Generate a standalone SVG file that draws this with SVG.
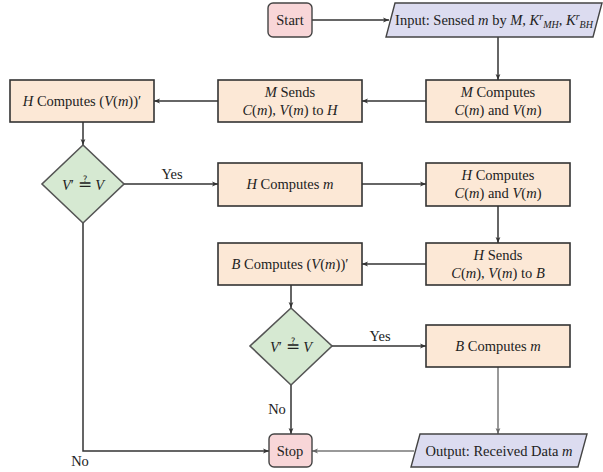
<svg xmlns="http://www.w3.org/2000/svg" width="603" height="472" viewBox="0 0 603 472">
<style>
text{font-family:"Liberation Serif","Times New Roman",serif;font-size:14.5px;fill:#222;text-anchor:middle}
.i{font-style:italic}
.box{fill:#fce8d6;stroke:#333;stroke-width:1.6}
.dia{fill:#d6e9d2;stroke:#555;stroke-width:1.6}
.term{fill:#f8d6d8;stroke:#444;stroke-width:1.4}
.io{fill:#dcdcf0;stroke:#444;stroke-width:1.4}
.c{fill:none;stroke:#333;stroke-width:1.5}
.cl{fill:none;stroke:#777;stroke-width:1.5}
.sub{font-size:10px}
.q{font-size:17px}
</style>
<defs>
<marker id="a" viewBox="0 0 10 10" refX="10" refY="5" markerWidth="6" markerHeight="6" orient="auto" markerUnits="userSpaceOnUse">
<path d="M0,1 L10,5 L0,9 L2.5,5 Z" fill="#333"/>
</marker>
<marker id="al" viewBox="0 0 10 10" refX="10" refY="5" markerWidth="6" markerHeight="6" orient="auto" markerUnits="userSpaceOnUse">
<path d="M0,1 L10,5 L0,9 L2.5,5 Z" fill="#666"/>
</marker>
</defs>
<g id="connectors">
<path class="c" d="M312,20 H389" marker-end="url(#a)"/>
<path class="c" d="M498,37 V80" marker-end="url(#a)"/>
<path class="c" d="M426,101 H362" marker-end="url(#a)"/>
<path class="c" d="M218,101 H154" marker-end="url(#a)"/>
<path class="c" d="M83,122 V145" marker-end="url(#a)"/>
<path class="c" d="M124,184 H218" marker-end="url(#a)"/>
<path class="c" d="M362,184 H426" marker-end="url(#a)"/>
<path class="c" d="M498,206 V243" marker-end="url(#a)"/>
<path class="c" d="M426,264 H362" marker-end="url(#a)"/>
<path class="c" d="M291,285 V308" marker-end="url(#a)"/>
<path class="c" d="M332,346 H426" marker-end="url(#a)"/>
<path class="cl" d="M498,367 V434" marker-end="url(#al)"/>
<path class="cl" d="M414,451 H312" marker-end="url(#al)"/>
<path class="c" d="M291,385 V434" marker-end="url(#a)"/>
<path class="c" d="M83,223 V451 H269" marker-end="url(#a)"/>
<text x="172" y="179">Yes</text>
<text x="380" y="341">Yes</text>
<text x="277" y="414">No</text>
<text x="80" y="466">No</text>
</g>
<g id="start">
<rect class="term" x="268" y="3" width="44" height="34" rx="5"/>
<text x="290" y="25">Start</text>
</g>
<g id="input">
<polygon class="io" points="395,3 602,3 593,37 386,37"/>
<text x="494" y="25">Input: Sensed <tspan class="i">m</tspan> by <tspan class="i">M</tspan>, <tspan class="i">K</tspan><tspan class="i sub" dy="-5">r</tspan><tspan class="i sub" dy="8">MH</tspan><tspan dy="-3">, </tspan><tspan class="i">K</tspan><tspan class="i sub" dy="-5">r</tspan><tspan class="i sub" dy="8">BH</tspan></text>
</g>
<g id="m-computes">
<rect class="box" x="426" y="80" width="144" height="42"/>
<text x="498" y="97"><tspan class="i">M</tspan> Computes</text>
<text x="498" y="115"><tspan class="i">C</tspan>(<tspan class="i">m</tspan>) and <tspan class="i">V</tspan>(<tspan class="i">m</tspan>)</text>
</g>
<g id="m-sends">
<rect class="box" x="218" y="80" width="144" height="42"/>
<text x="290" y="97"><tspan class="i">M</tspan> Sends</text>
<text x="290" y="115"><tspan class="i">C</tspan>(<tspan class="i">m</tspan>), <tspan class="i">V</tspan>(<tspan class="i">m</tspan>) to <tspan class="i">H</tspan></text>
</g>
<g id="h-computes-v">
<rect class="box" x="10" y="80" width="144" height="42"/>
<text x="82" y="106"><tspan class="i">H</tspan> Computes (<tspan class="i">V</tspan>(<tspan class="i">m</tspan>))′</text>
</g>
<g id="decision1">
<polygon class="dia" points="83,145 124,184 83,223 42,184"/>
<text x="83" y="190"><tspan class="i">V</tspan>′ <tspan class="q">≟</tspan> <tspan class="i">V</tspan></text>
</g>
<g id="h-computes-m">
<rect class="box" x="218" y="163" width="144" height="43"/>
<text x="290" y="189"><tspan class="i">H</tspan> Computes <tspan class="i">m</tspan></text>
</g>
<g id="h-computes-cv">
<rect class="box" x="426" y="163" width="144" height="43"/>
<text x="498" y="180"><tspan class="i">H</tspan> Computes</text>
<text x="498" y="198"><tspan class="i">C</tspan>(<tspan class="i">m</tspan>) and <tspan class="i">V</tspan>(<tspan class="i">m</tspan>)</text>
</g>
<g id="h-sends">
<rect class="box" x="426" y="243" width="144" height="42"/>
<text x="498" y="260"><tspan class="i">H</tspan> Sends</text>
<text x="498" y="278"><tspan class="i">C</tspan>(<tspan class="i">m</tspan>), <tspan class="i">V</tspan>(<tspan class="i">m</tspan>) to <tspan class="i">B</tspan></text>
</g>
<g id="b-computes-v">
<rect class="box" x="218" y="243" width="144" height="42"/>
<text x="290" y="269"><tspan class="i">B</tspan> Computes (<tspan class="i">V</tspan>(<tspan class="i">m</tspan>))′</text>
</g>
<g id="decision2">
<polygon class="dia" points="291,308 332,346 291,385 250,346"/>
<text x="291" y="352"><tspan class="i">V</tspan>′ <tspan class="q">≟</tspan> <tspan class="i">V</tspan></text>
</g>
<g id="b-computes-m">
<rect class="box" x="426" y="325" width="144" height="42"/>
<text x="498" y="351"><tspan class="i">B</tspan> Computes <tspan class="i">m</tspan></text>
</g>
<g id="output">
<polygon class="io" points="420,434 587,434 578,467 411,467"/>
<text x="499" y="456">Output: Received Data <tspan class="i">m</tspan></text>
</g>
<g id="stop">
<rect class="term" x="269" y="434" width="43" height="33" rx="5"/>
<text x="290" y="456">Stop</text>
</g>
</svg>
